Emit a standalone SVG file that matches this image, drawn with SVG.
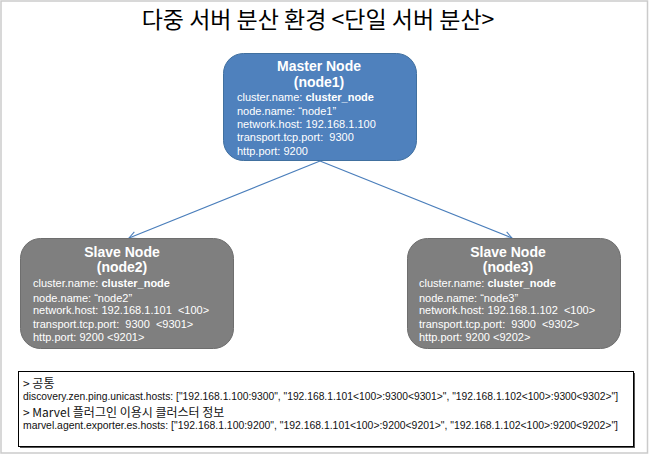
<svg xmlns="http://www.w3.org/2000/svg" width="650" height="455" viewBox="0 0 650 455">
<defs>
<style>
.ko{font-family:"Noto Sans CJK KR","Noto Sans",sans-serif;}
.t{font-family:"Liberation Sans",Arial,"Noto Sans CJK KR",sans-serif;font-size:11px;fill:#fff;white-space:pre;}
.h{font-family:"Liberation Sans",Arial,sans-serif;font-size:14px;font-weight:bold;fill:#fff;text-anchor:middle;}
.b{font-weight:bold;}
.blue{fill:#4f81bd;stroke:#41709f;stroke-width:1;}
.gray{fill:#7f7f7f;stroke:#6e6e6e;stroke-width:1;}
.conn{stroke:#4a7ebb;stroke-width:1.2;fill:none;}
.n{font-family:"Liberation Sans",Arial,sans-serif;font-size:10px;fill:#111;}
</style>
<marker id="arr" viewBox="0 0 10 10" refX="9" refY="5" markerWidth="9" markerHeight="9" markerUnits="userSpaceOnUse" orient="auto">
<path d="M1,1 L9,5 L1,9" fill="none" stroke="#4a7ebb" stroke-width="1.2"/>
</marker>
</defs>
<rect x="0" y="0" width="650" height="455" fill="#fff"/>
<rect x="1" y="1" width="646.5" height="452" fill="none" stroke="#cbcbcb" stroke-width="1.5"/>
<text class="ko" x="318" y="28" font-size="23" text-anchor="middle" fill="#000">다중 서버 분산 환경 &lt;단일 서버 분산&gt;</text>
<g id="connectors">
<line class="conn" x1="320" y1="161" x2="129" y2="238" marker-end="url(#arr)"/>
<line class="conn" x1="320" y1="161" x2="512" y2="238" marker-end="url(#arr)"/>
</g>
<g id="master">
<rect class="blue" x="223.5" y="53.5" width="193" height="107" rx="20"/>
<text class="h" x="319" y="71">Master Node</text>
<text class="h" x="319" y="87">(node1)</text>
<text class="t" x="237" y="101">cluster.name: <tspan class="b">cluster_node</tspan></text>
<text class="t" x="237" y="115">node.name: “node1”</text>
<text class="t" x="237" y="128">network.host: 192.168.1.100</text>
<text class="t" x="237" y="141" xml:space="preserve">transport.tcp.port:  9300</text>
<text class="t" x="237" y="155">http.port: 9200</text>
</g>
<g id="node2">
<rect class="gray" x="20.5" y="238.5" width="213" height="110" rx="20"/>
<text class="h" x="122" y="257">Slave Node</text>
<text class="h" x="122" y="272">(node2)</text>
<text class="t" x="33" y="287">cluster.name: <tspan class="b">cluster_node</tspan></text>
<text class="t" x="33" y="302">node.name: “node2”</text>
<text class="t" x="33" y="314" xml:space="preserve">network.host: 192.168.1.101  &lt;100&gt;</text>
<text class="t" x="33" y="328" xml:space="preserve">transport.tcp.port:  9300  &lt;9301&gt;</text>
<text class="t" x="33" y="341">http.port: 9200 &lt;9201&gt;</text>
</g>
<g id="node3">
<rect class="gray" x="407.5" y="238.5" width="213" height="110" rx="20"/>
<text class="h" x="508" y="257">Slave Node</text>
<text class="h" x="508" y="272">(node3)</text>
<text class="t" x="419" y="287">cluster.name: <tspan class="b">cluster_node</tspan></text>
<text class="t" x="419" y="302">node.name: “node3”</text>
<text class="t" x="419" y="314" xml:space="preserve">network.host: 192.168.1.102  &lt;100&gt;</text>
<text class="t" x="419" y="328" xml:space="preserve">transport.tcp.port:  9300  &lt;9302&gt;</text>
<text class="t" x="419" y="341">http.port: 9200 &lt;9202&gt;</text>
</g>
<g id="notes">
<rect x="20" y="373" width="615" height="75" fill="#555"/>
<rect x="18.5" y="371.5" width="615" height="75" fill="#fff" stroke="#000" stroke-width="1"/>
<text class="ko" x="23" y="388" font-size="12" fill="#111">&gt; 공통</text>
<text class="n" x="23" y="400" textLength="595" lengthAdjust="spacingAndGlyphs">discovery.zen.ping.unicast.hosts: ["192.168.1.100:9300", "192.168.1.101&lt;100&gt;:9300&lt;9301&gt;", "192.168.1.102&lt;100&gt;:9300&lt;9302&gt;"]</text>
<text class="ko" x="23" y="417" font-size="12" fill="#111">&gt; Marvel 플러그인 이용시 클러스터 정보</text>
<text class="n" x="23" y="429" textLength="595" lengthAdjust="spacingAndGlyphs">marvel.agent.exporter.es.hosts: ["192.168.1.100:9200", "192.168.1.101&lt;100&gt;:9200&lt;9201&gt;", "192.168.1.102&lt;100&gt;:9200&lt;9202&gt;"]</text>
</g>
</svg>
